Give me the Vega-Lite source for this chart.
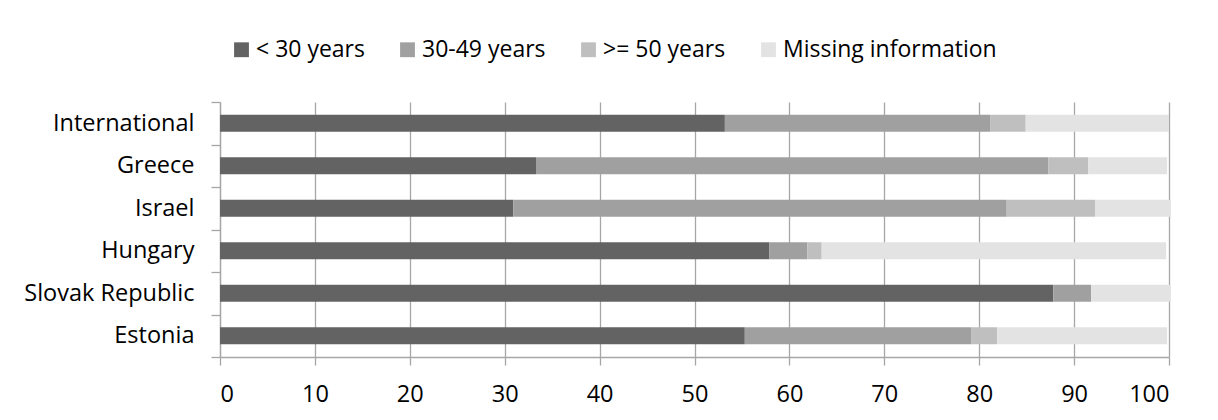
{
  "$schema": "https://vega.github.io/schema/vega-lite/v6.json",
  "autosize": {"type": "none"},
  "width": 949,
  "height": 255,
  "padding": {"left": 220, "top": 102, "right": 49, "bottom": 63},
  "background": "white",
  "data": {
    "values": [
      {"country": "International", "group": "< 30 years", "rank": 1, "share": 53.2},
      {"country": "International", "group": "30-49 years", "rank": 2, "share": 28.0},
      {"country": "International", "group": ">= 50 years", "rank": 3, "share": 3.7},
      {"country": "International", "group": "Missing information", "rank": 4, "share": 15.1},
      {"country": "Greece", "group": "< 30 years", "rank": 1, "share": 33.3},
      {"country": "Greece", "group": "30-49 years", "rank": 2, "share": 54.0},
      {"country": "Greece", "group": ">= 50 years", "rank": 3, "share": 4.2},
      {"country": "Greece", "group": "Missing information", "rank": 4, "share": 8.3},
      {"country": "Israel", "group": "< 30 years", "rank": 1, "share": 30.9},
      {"country": "Israel", "group": "30-49 years", "rank": 2, "share": 52.0},
      {"country": "Israel", "group": ">= 50 years", "rank": 3, "share": 9.3},
      {"country": "Israel", "group": "Missing information", "rank": 4, "share": 8.0},
      {"country": "Hungary", "group": "< 30 years", "rank": 1, "share": 57.9},
      {"country": "Hungary", "group": "30-49 years", "rank": 2, "share": 4.0},
      {"country": "Hungary", "group": ">= 50 years", "rank": 3, "share": 1.5},
      {"country": "Hungary", "group": "Missing information", "rank": 4, "share": 36.3},
      {"country": "Slovak Republic", "group": "< 30 years", "rank": 1, "share": 87.8},
      {"country": "Slovak Republic", "group": "30-49 years", "rank": 2, "share": 4.0},
      {"country": "Slovak Republic", "group": ">= 50 years", "rank": 3, "share": 0},
      {"country": "Slovak Republic", "group": "Missing information", "rank": 4, "share": 8.4},
      {"country": "Estonia", "group": "< 30 years", "rank": 1, "share": 55.3},
      {"country": "Estonia", "group": "30-49 years", "rank": 2, "share": 23.9},
      {"country": "Estonia", "group": ">= 50 years", "rank": 3, "share": 2.7},
      {"country": "Estonia", "group": "Missing information", "rank": 4, "share": 17.9}
    ]
  },
  "mark": {"type": "bar", "height": {"band": 0.4}},
  "encoding": {
    "y": {
      "field": "country",
      "type": "nominal",
      "sort": ["International", "Greece", "Israel", "Hungary", "Slovak Republic", "Estonia"],
      "scale": {"paddingInner": 0, "paddingOuter": 0},
      "axis": {
        "title": null,
        "tickBand": "extent",
        "tickSize": 9,
        "tickColor": "#a6a6a6",
        "tickWidth": 1.3,
        "domainColor": "#a6a6a6",
        "domainWidth": 1.3,
        "labelPadding": 17,
        "labelFont": "Open Sans",
        "labelFontSize": 23.5,
        "labelColor": "#000000",
        "labelLimit": 300,
        "grid": false
      }
    },
    "x": {
      "field": "share",
      "type": "quantitative",
      "stack": "zero",
      "scale": {"domain": [0, 100], "nice": false},
      "axis": {
        "title": null,
        "values": [0, 10, 20, 30, 40, 50, 60, 70, 80, 90, 100],
        "grid": true,
        "gridColor": "#a6a6a6",
        "gridWidth": 1.3,
        "tickSize": 8,
        "tickColor": "#a6a6a6",
        "tickWidth": 1.3,
        "domainColor": "#a6a6a6",
        "domainWidth": 1.3,
        "labelPadding": 17,
        "labelFont": "Open Sans",
        "labelFontSize": 23.5,
        "labelColor": "#000000"
      }
    },
    "color": {
      "field": "group",
      "type": "nominal",
      "scale": {
        "domain": ["< 30 years", "30-49 years", ">= 50 years", "Missing information"],
        "range": ["#636363", "#a0a0a0", "#bfbfbf", "#e3e3e3"]
      },
      "legend": {
        "title": null,
        "orient": "none",
        "direction": "horizontal",
        "padding": 0,
        "legendX": 10,
        "legendY": -64,
        "symbolType": "square",
        "symbolSize": 220,
        "symbolStrokeWidth": 0,
        "labelFont": "Open Sans",
        "labelFontSize": 23,
        "labelColor": "#000000",
        "labelLimit": 400,
        "labelOffset": 3,
        "columnPadding": 31
      }
    },
    "order": {"field": "rank", "type": "quantitative"}
  },
  "config": {
    "view": {"stroke": null}
  }
}
